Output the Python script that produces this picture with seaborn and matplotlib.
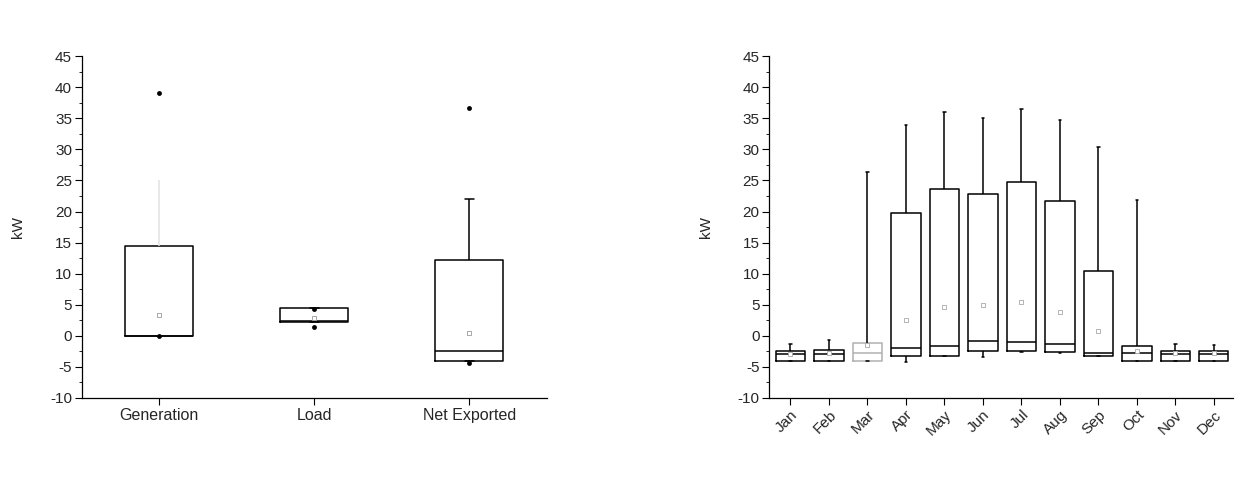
import matplotlib
matplotlib.use("Agg")
import matplotlib.pyplot as plt
from matplotlib.ticker import MultipleLocator
import pandas as pd
import seaborn as sns

sns.set_theme(style="ticks")
plt.rcParams["font.family"] = ["Liberation Sans", "DejaVu Sans"]
plt.rcParams["font.size"] = 11
plt.rcParams["axes.unicode_minus"] = False

# --- left panel: summary stats (kW)
series = ["Generation", "Load", "Net Exported"]
s_lo = [0.0, 2.2, -4.0]
s_q1 = [0.0, 2.2, -4.0]
s_med = [0.0, 2.4, -2.5]
s_q3 = [14.5, 4.4, 12.2]
s_hi = [25.0, 4.4, 22.0]
s_mean = [3.4, 2.9, 0.4]
s_min = [0.0, 1.4, -4.3]
s_max = [39.0, 4.3, 36.6]

# --- right panel: monthly stats
months = ["Jan", "Feb", "Mar", "Apr", "May", "Jun",
          "Jul", "Aug", "Sep", "Oct", "Nov", "Dec"]
m_lo = [-4.1, -4.1, -4.1, -4.2, -3.3, -3.4, -2.6, -2.7, -3.3, -4.1, -4.1, -4.1]
m_q1 = [-4.1, -4.1, -4.1, -3.2, -3.2, -2.5, -2.5, -2.6, -3.3, -4.1, -4.1, -4.1]
m_med = [-3.0, -2.9, -2.8, -2.0, -1.6, -0.9, -1.0, -1.3, -2.8, -2.8, -3.0, -3.0]
m_q3 = [-2.5, -2.3, -1.2, 19.8, 23.7, 22.8, 24.7, 21.7, 10.5, -1.7, -2.5, -2.5]
m_hi = [-1.3, -0.7, 26.3, 34.0, 36.0, 35.0, 36.5, 34.8, 30.4, 21.9, -1.3, -1.5]
m_mean = [-2.9, -2.7, -1.5, 2.6, 4.7, 5.0, 5.4, 3.9, 0.7, -2.5, -2.8, -2.8]


def five_number_frame(cats, lo, q1, med, q3, hi):
    # five values per group -> seaborn quartiles land exactly on them
    rows = []
    for c, a, b, m, d, e in zip(cats, lo, q1, med, q3, hi):
        for v in (a, b, m, d, e):
            rows.append({"cat": c, "kW": v})
    return pd.DataFrame(rows)


def draw_boxes(ax, df, order, width, box_c="black", whisk_c="black", capw=0.06):
    sns.boxplot(data=df, x="cat", y="kW", order=order, whis=(0, 100),
                fill=False, color="black", linewidth=1.1, width=width,
                showfliers=False, capwidths=capw,
                boxprops={"color": box_c}, medianprops={"color": box_c},
                whiskerprops={"color": whisk_c}, capprops={"color": whisk_c},
                ax=ax)


def style_axis(ax, n, xsize):
    ax.set_ylim(-10, 45)
    ax.set_xlim(-0.5, n - 0.5)
    ax.yaxis.set_major_locator(MultipleLocator(5))
    ax.yaxis.set_minor_locator(MultipleLocator(2.5))
    ax.tick_params(axis="both", which="major", direction="out", length=5,
                   width=0.8, color="black", labelsize=11, pad=2)
    ax.tick_params(axis="x", labelsize=xsize)
    ax.tick_params(axis="y", which="minor", direction="out", length=2.5,
                   width=0.6, color="black")
    ax.set_xlabel("")
    ax.set_ylabel("kW", fontsize=11, labelpad=18)
    for sp in ["left", "bottom"]:
        ax.spines[sp].set_linewidth(0.9)
        ax.spines[sp].set_color("black")
    sns.despine(ax=ax)


fig = plt.figure(figsize=(12.57, 4.8), dpi=100)
ax1 = fig.add_axes([0.065, 0.171, 0.370, 0.712])
ax2 = fig.add_axes([0.612, 0.171, 0.369, 0.712])

# left panel
left = five_number_frame(series, s_lo, s_q1, s_med, s_q3, s_hi)
draw_boxes(ax1, left[left.cat != "Generation"], series, 0.44)
draw_boxes(ax1, left[left.cat == "Generation"], series, 0.44,
           whisk_c="#e2e2e2", capw=0.0)

ext_left = pd.DataFrame({"cat": series * 2, "kW": s_min + s_max})
sns.stripplot(data=ext_left, x="cat", y="kW", order=series, jitter=False,
              color="black", marker="o", size=3.5, linewidth=0, ax=ax1)
mean_left = pd.DataFrame({"cat": series, "kW": s_mean})
sns.stripplot(data=mean_left, x="cat", y="kW", order=series, jitter=False,
              color="white", edgecolor="#9a9a9a", linewidth=0.6, marker="s",
              size=3.5, ax=ax1)
style_axis(ax1, len(series), 11.5)

# right panel
right = five_number_frame(months, m_lo, m_q1, m_med, m_q3, m_hi)
draw_boxes(ax2, right[right.cat != "Mar"], months, 0.76)
draw_boxes(ax2, right[right.cat == "Mar"], months, 0.76, box_c="#b0b0b0")
mean_right = pd.DataFrame({"cat": months, "kW": m_mean})
sns.stripplot(data=mean_right, x="cat", y="kW", order=months, jitter=False,
              color="white", edgecolor="#a8a8a8", linewidth=0.6, marker="s",
              size=3.5, ax=ax2)
style_axis(ax2, len(months), 11)
ax2.set_xlim(-0.55, 11.5)
for lab in ax2.get_xticklabels():
    lab.set_rotation(45)
    lab.set_ha("right")
    lab.set_rotation_mode("anchor")

fig.savefig("out.png", dpi=100, facecolor="white")
